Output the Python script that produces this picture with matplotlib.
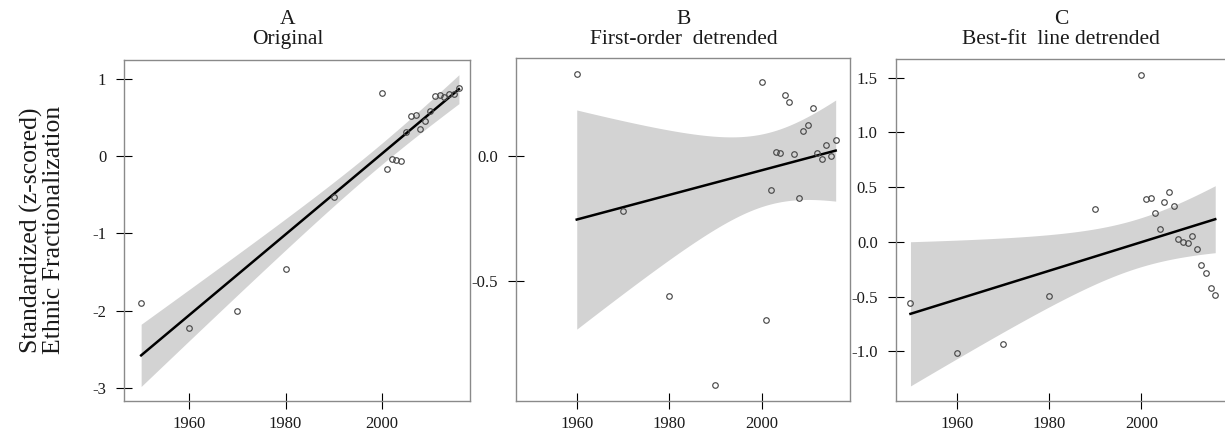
import numpy as np
import matplotlib
matplotlib.use("Agg")
import matplotlib.pyplot as plt
from matplotlib.ticker import FixedLocator, FuncFormatter

plt.rcParams["font.family"] = ["Liberation Serif", "DejaVu Serif"]
plt.rcParams["axes.unicode_minus"] = False

# ---------------- data ----------------
years_a = [1950, 1960, 1970, 1980, 1990, 2000, 2001, 2002, 2003, 2004, 2005,
           2006, 2007, 2008, 2009, 2010, 2011, 2012, 2013, 2014, 2015, 2016]
values_a = [-1.90, -2.225, -2.01, -1.455, -0.53, 0.82, -0.17, -0.035, -0.05,
            -0.065, 0.31, 0.52, 0.53, 0.355, 0.46, 0.59, 0.78, 0.79, 0.77,
            0.81, 0.81, 0.88]

years_b = [1960, 1970, 1980, 1990, 2000, 2001, 2002, 2003, 2004, 2005, 2006,
           2007, 2008, 2009, 2010, 2011, 2012, 2013, 2014, 2015, 2016]
values_b = [0.327, -0.22, -0.56, -0.917, 0.297, -0.657, -0.136, 0.016, 0.011,
            0.243, 0.217, 0.007, -0.169, 0.10, 0.124, 0.192, 0.012, -0.013,
            0.044, -0.001, 0.063]

years_c = [1950, 1960, 1970, 1980, 1990, 2000, 2001, 2002, 2003, 2004, 2005,
           2006, 2007, 2008, 2009, 2010, 2011, 2012, 2013, 2014, 2015, 2016]
values_c = [-0.555, -1.015, -0.93, -0.497, 0.299, 1.527, 0.39, 0.402, 0.262,
            0.116, 0.366, 0.454, 0.329, 0.03, 0.003, -0.006, 0.052, -0.064,
            -0.21, -0.284, -0.42, -0.488]

panel_letters = ["A", "B", "C"]
panel_titles = ["Original", "First-order  detrended", "Best-fit  line detrended"]
ylabel_text = "Standardized (z-scored)\nEthnic Fractionalization"
x_ticks = [1960, 1980, 2000]
y_ticks_a = [-3, -2, -1, 0, 1]
y_ticks_b = [-0.5, 0.0]
y_ticks_c = [-1.0, -0.5, 0.0, 0.5, 1.0, 1.5]

T_QUANT = {20: 2.086, 19: 2.093}


def ols_band(x, y):
    x = np.asarray(x, float)
    y = np.asarray(y, float)
    n = len(x)
    xm, ym = x.mean(), y.mean()
    sxx = ((x - xm) ** 2).sum()
    b = ((x - xm) * (y - ym)).sum() / sxx
    a = ym - b * xm
    resid = y - (a + b * x)
    s = np.sqrt((resid ** 2).sum() / (n - 2))
    xs = np.linspace(x.min(), x.max(), 200)
    fit = a + b * xs
    se = s * np.sqrt(1.0 / n + (xs - xm) ** 2 / sxx)
    t = T_QUANT[n - 2]
    return xs, fit, fit - t * se, fit + t * se


W, H = 1225, 436
fig = plt.figure(figsize=(W / 100, H / 100), dpi=100)


def px_axes(left, right, top, bottom):
    return fig.add_axes([left / W, 1 - bottom / H, (right - left) / W, (bottom - top) / H])


panels = [
    dict(x=years_a, y=values_a, box=(124.3, 470.0, 59.7, 401.0), xlim=(1946.5, 2018.3),
         ylim=(-3.17, 1.25), yt=y_ticks_a, fmt=lambda v, p: "%d" % v, tcx=288),
    dict(x=years_b, y=values_b, box=(515.7, 850.0, 58.3, 401.0), xlim=(1946.8, 2019.1),
         ylim=(-0.98, 0.391), yt=y_ticks_b, fmt=lambda v, p: "%.1f" % v, tcx=684),
    dict(x=years_c, y=values_c, box=(895.7, 1230.0, 59.3, 401.0), xlim=(1946.8, 2019.2),
         ylim=(-1.454, 1.668), yt=y_ticks_c, fmt=lambda v, p: "%.1f" % v, tcx=1061),
]

for i, p in enumerate(panels):
    ax = px_axes(*p["box"])
    xs, fit, lo, hi = ols_band(p["x"], p["y"])
    ax.fill_between(xs, lo, hi, color="#d3d3d3", linewidth=0, zorder=1)
    ax.plot(xs, fit, color="black", lw=1.8, zorder=2)
    ax.plot(p["x"], p["y"], linestyle="none", marker="o", markersize=4.0,
            markerfacecolor="none", markeredgecolor="#4a4a4a", markeredgewidth=0.85, zorder=3)
    ax.set_xlim(*p["xlim"])
    ax.set_ylim(*p["ylim"])
    ax.xaxis.set_major_locator(FixedLocator(x_ticks))
    ax.yaxis.set_major_locator(FixedLocator(p["yt"]))
    ax.yaxis.set_major_formatter(FuncFormatter(p["fmt"]))
    ax.tick_params(direction="inout", length=11, width=0.8, color="black",
                   labelsize=12, labelcolor="#1a1a1a")
    ax.tick_params(axis="y", pad=7.5)
    ax.tick_params(axis="x", pad=5)
    for s in ax.spines.values():
        s.set_color("#8a8a8a")
        s.set_linewidth(1.0)
    fig.text(p["tcx"] / W, 1 - 24 / H, panel_letters[i], ha="center", va="baseline",
             fontsize=15.5, color="#1a1a1a")
    fig.text(p["tcx"] / W, 1 - 44 / H, panel_titles[i], ha="center", va="baseline",
             fontsize=15.5, color="#1a1a1a")

fig.text(42 / W, 1 - 230 / H, ylabel_text, rotation=90, ha="center", va="center",
         multialignment="center", fontsize=18.5, linespacing=1.0, color="#1a1a1a")

fig.savefig("out.png", dpi=100)
